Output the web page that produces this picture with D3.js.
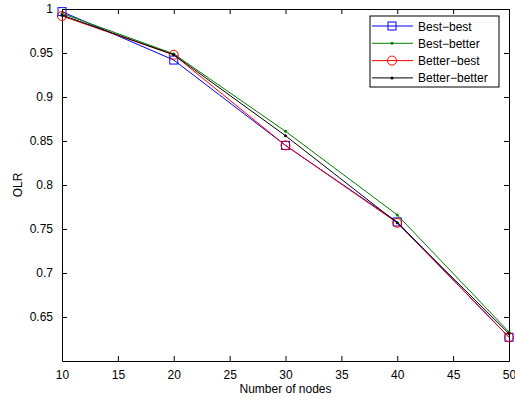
<!DOCTYPE html>
<html>
<head>
<meta charset="utf-8">
<script src="https://cdn.jsdelivr.net/npm/d3@7"></script>
<style>
  body { margin: 0; background: #fff; }
  text { font-family: "Liberation Sans", Arial, sans-serif; }
</style>
</head>
<body>
<svg id="chart" width="515" height="403"></svg>
<script>
var nodes = [10, 20, 30, 40, 50];
var bestBest = [0.997, 0.942, 0.845, 0.758, 0.627];
var bestBetter = [0.995, 0.949, 0.861, 0.766, 0.633];
var betterBest = [0.992, 0.948, 0.845, 0.757, 0.627];
var betterBetter = [0.993, 0.948, 0.856, 0.757, 0.631];
var xTicks = [10, 15, 20, 25, 30, 35, 40, 45, 50];
var yTicks = [0.65, 0.7, 0.75, 0.8, 0.85, 0.9, 0.95, 1];

var series = [
  { name: "Best\u2212best", values: bestBest, color: "#0000ff", marker: "square" },
  { name: "Best\u2212better", values: bestBetter, color: "#008000", marker: "dot" },
  { name: "Better\u2212best", values: betterBest, color: "#ff0000", marker: "circle" },
  { name: "Better\u2212better", values: betterBetter, color: "#000000", marker: "dot" }
];

var svg = d3.select("#chart"),
    margin = { top: 9, right: 6, bottom: 42, left: 62 },
    width = 515 - margin.left - margin.right,
    height = 403 - margin.top - margin.bottom,
    g = svg.append("g").attr("transform", "translate(" + margin.left + "," + margin.top + ")");

var x = d3.scaleLinear().domain([10, 50]).range([0, width]);
var y = d3.scaleLinear().domain([0.6, 1]).range([height, 0]);

var fmt = function(d) { return String(+d.toFixed(2)); };

// axes, MATLAB style ticks pointing inward
g.append("g").attr("transform", "translate(0," + height + ")")
  .call(d3.axisBottom(x).tickValues(xTicks).tickSizeInner(-5).tickSizeOuter(0).tickPadding(9).tickFormat(fmt));
g.append("g").call(d3.axisTop(x).tickValues(xTicks).tickSizeInner(-5).tickSizeOuter(0).tickFormat(""));
g.append("g").call(d3.axisLeft(y).tickValues(yTicks).tickSizeInner(-5).tickSizeOuter(0).tickPadding(9).tickFormat(fmt));
g.append("g").attr("transform", "translate(" + width + ",0)")
  .call(d3.axisRight(y).tickValues(yTicks).tickSizeInner(-5).tickSizeOuter(0).tickFormat(""));

g.selectAll(".domain").attr("stroke", "#000");
g.selectAll(".tick line").attr("stroke", "#000");
g.selectAll(".tick text").attr("font-size", 12).attr("fill", "#000")
  .attr("font-family", "Liberation Sans, Arial, sans-serif");

var line = d3.line()
  .x(function(d, i) { return x(nodes[i]); })
  .y(function(d) { return y(d); });

function drawMarker(sel, s, cx, cy) {
  if (s.marker === "square") {
    sel.append("rect").attr("x", cx - 4).attr("y", cy - 4).attr("width", 8).attr("height", 8)
      .attr("fill", "none").attr("stroke", s.color);
  } else if (s.marker === "circle") {
    sel.append("circle").attr("cx", cx).attr("cy", cy).attr("r", 4.5)
      .attr("fill", "none").attr("stroke", s.color);
  } else {
    sel.append("circle").attr("cx", cx).attr("cy", cy).attr("r", 1.5)
      .attr("fill", s.color);
  }
}

series.forEach(function(s) {
  g.append("path").attr("d", line(s.values))
    .attr("fill", "none").attr("stroke", s.color).attr("stroke-width", 1);
  s.values.forEach(function(v, i) {
    drawMarker(g, s, x(nodes[i]), y(v));
  });
});

// legend
var lg = svg.append("g").attr("transform", "translate(370,16)");
lg.append("rect").attr("width", 129).attr("height", 71)
  .attr("fill", "#fff").attr("stroke", "#000");
series.forEach(function(s, i) {
  var ly = 10 + i * 17.3;
  lg.append("line").attr("x1", 2).attr("x2", 43).attr("y1", ly).attr("y2", ly)
    .attr("stroke", s.color);
  drawMarker(lg, s, 22, ly);
  lg.append("text").attr("x", 48).attr("y", ly + 4.5).attr("font-size", 12).text(s.name);
});

svg.append("text").attr("x", margin.left + width / 2).attr("y", 393)
  .attr("text-anchor", "middle").attr("font-size", 12).text("Number of nodes");
svg.append("text").attr("transform", "translate(22," + (margin.top + height / 2) + ") rotate(-90)")
  .attr("text-anchor", "middle").attr("font-size", 12).text("OLR");
</script>
</body>
</html>
